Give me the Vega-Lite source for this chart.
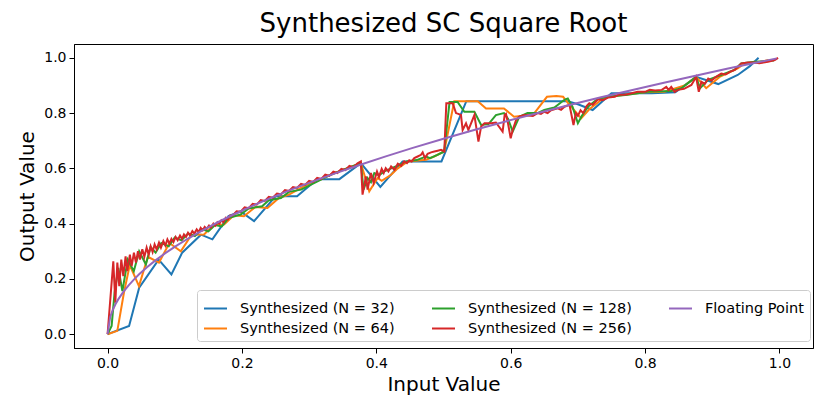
{
  "$schema": "https://vega.github.io/schema/vega-lite/v6.json",
  "width": 739,
  "height": 304,
  "autosize": {"type": "none"},
  "padding": {"left": 74, "top": 44, "right": 17, "bottom": 67},
  "background": "white",
  "title": {
    "text": "Synthesized SC Square Root",
    "font": "DejaVu Sans",
    "fontSize": 26,
    "fontWeight": "normal",
    "color": "#000000",
    "anchor": "middle",
    "offset": 7
  },
  "encoding": {
    "x": {
      "field": "x",
      "type": "quantitative",
      "scale": {"domain": [-0.05, 1.05], "nice": false, "zero": false},
      "axis": {"title": "Input Value", "values": [0, 0.2, 0.4, 0.6, 0.8, 1.0], "format": ".1f", "titlePadding": 4}
    },
    "y": {
      "field": "y",
      "type": "quantitative",
      "scale": {"domain": [-0.05, 1.05], "nice": false, "zero": false},
      "axis": {"title": "Output Value", "values": [0, 0.2, 0.4, 0.6, 0.8, 1.0], "format": ".1f", "titlePadding": 6}
    },
    "color": {
      "type": "nominal",
      "scale": {
        "domain": ["Synthesized (N = 32)", "Synthesized (N = 64)", "Synthesized (N = 128)", "Synthesized (N = 256)", "Floating Point"],
        "range": ["#1f77b4", "#ff7f0e", "#2ca02c", "#d62728", "#9467bd"]
      },
      "legend": {
        "orient": "none",
        "legendX": 123,
        "legendY": 246,
        "columns": 3,
        "title": null,
        "symbolType": "stroke",
        "symbolSize": 529,
        "symbolStrokeWidth": 2,
        "labelFont": "DejaVu Sans",
        "labelFontSize": 14.5,
        "labelColor": "#000000",
        "labelOffset": 12,
        "labelLimit": 300,
        "padding": 6,
        "rowPadding": 1,
        "columnPadding": 33,
        "strokeColor": "#cccccc",
        "fillColor": "rgba(255,255,255,0.8)",
        "cornerRadius": 3
      }
    }
  },
  "layer": [
    {
      "data": {"values": [
        {"x": 0, "y": 0}, {"x": 0.032, "y": 0.03}, {"x": 0.047, "y": 0.168}, {"x": 0.076, "y": 0.27},
        {"x": 0.095, "y": 0.216}, {"x": 0.111, "y": 0.295}, {"x": 0.139, "y": 0.36}, {"x": 0.156, "y": 0.343},
        {"x": 0.18, "y": 0.427}, {"x": 0.198, "y": 0.444}, {"x": 0.218, "y": 0.409}, {"x": 0.25, "y": 0.499},
        {"x": 0.282, "y": 0.499}, {"x": 0.312, "y": 0.561}, {"x": 0.345, "y": 0.561}, {"x": 0.377, "y": 0.619},
        {"x": 0.406, "y": 0.533}, {"x": 0.439, "y": 0.625}, {"x": 0.474, "y": 0.625}, {"x": 0.497, "y": 0.625},
        {"x": 0.534, "y": 0.843}, {"x": 0.685, "y": 0.843}, {"x": 0.7, "y": 0.832}, {"x": 0.722, "y": 0.811},
        {"x": 0.75, "y": 0.872}, {"x": 0.78, "y": 0.872}, {"x": 0.81, "y": 0.872}, {"x": 0.845, "y": 0.875},
        {"x": 0.876, "y": 0.931}, {"x": 0.909, "y": 0.905}, {"x": 0.938, "y": 0.938}, {"x": 0.956, "y": 0.97},
        {"x": 0.969, "y": 1.0}
      ]},
      "mark": {"type": "line", "strokeWidth": 2},
      "encoding": {"color": {"datum": "Synthesized (N = 32)"}}
    },
    {
      "data": {"values": [
        {"x": 0, "y": 0}, {"x": 0.0145, "y": 0.012}, {"x": 0.0243, "y": 0.15}, {"x": 0.033, "y": 0.25},
        {"x": 0.0467, "y": 0.174}, {"x": 0.06, "y": 0.28}, {"x": 0.0765, "y": 0.259}, {"x": 0.092, "y": 0.33},
        {"x": 0.109, "y": 0.3}, {"x": 0.125, "y": 0.36}, {"x": 0.1435, "y": 0.361}, {"x": 0.158, "y": 0.395},
        {"x": 0.1733, "y": 0.397}, {"x": 0.188, "y": 0.43}, {"x": 0.203, "y": 0.427}, {"x": 0.22, "y": 0.46},
        {"x": 0.238, "y": 0.457}, {"x": 0.255, "y": 0.493}, {"x": 0.27, "y": 0.505}, {"x": 0.288, "y": 0.529},
        {"x": 0.3, "y": 0.545}, {"x": 0.317, "y": 0.559}, {"x": 0.335, "y": 0.58}, {"x": 0.357, "y": 0.601},
        {"x": 0.377, "y": 0.619}, {"x": 0.3895, "y": 0.517}, {"x": 0.402, "y": 0.565}, {"x": 0.408, "y": 0.555},
        {"x": 0.422, "y": 0.577}, {"x": 0.432, "y": 0.6}, {"x": 0.447, "y": 0.625}, {"x": 0.474, "y": 0.631},
        {"x": 0.486, "y": 0.643}, {"x": 0.501, "y": 0.661}, {"x": 0.516, "y": 0.843}, {"x": 0.551, "y": 0.843},
        {"x": 0.5633, "y": 0.817}, {"x": 0.59, "y": 0.817}, {"x": 0.605, "y": 0.787}, {"x": 0.618, "y": 0.79},
        {"x": 0.633, "y": 0.793}, {"x": 0.654, "y": 0.859}, {"x": 0.668, "y": 0.862}, {"x": 0.678, "y": 0.859},
        {"x": 0.6855, "y": 0.836}, {"x": 0.705, "y": 0.781}, {"x": 0.717, "y": 0.814}, {"x": 0.735, "y": 0.848},
        {"x": 0.745, "y": 0.859}, {"x": 0.77, "y": 0.866}, {"x": 0.8, "y": 0.875}, {"x": 0.829, "y": 0.877},
        {"x": 0.859, "y": 0.9}, {"x": 0.876, "y": 0.931}, {"x": 0.891, "y": 0.89}, {"x": 0.911, "y": 0.931},
        {"x": 0.938, "y": 0.962}, {"x": 0.948, "y": 0.98}, {"x": 0.968, "y": 0.983}, {"x": 0.984, "y": 0.992}
      ]},
      "mark": {"type": "line", "strokeWidth": 2},
      "encoding": {"color": {"datum": "Synthesized (N = 64)"}}
    },
    {
      "data": {"values": [
        {"x": 0, "y": 0}, {"x": 0.006, "y": 0.03}, {"x": 0.0104, "y": 0.15}, {"x": 0.016, "y": 0.24},
        {"x": 0.022, "y": 0.156}, {"x": 0.03, "y": 0.27}, {"x": 0.039, "y": 0.228}, {"x": 0.047, "y": 0.3},
        {"x": 0.057, "y": 0.252}, {"x": 0.064, "y": 0.315}, {"x": 0.0715, "y": 0.295}, {"x": 0.08, "y": 0.33},
        {"x": 0.091, "y": 0.318}, {"x": 0.1, "y": 0.35}, {"x": 0.11, "y": 0.34}, {"x": 0.12, "y": 0.365},
        {"x": 0.13, "y": 0.355}, {"x": 0.14, "y": 0.38}, {"x": 0.15, "y": 0.372}, {"x": 0.16, "y": 0.395},
        {"x": 0.17, "y": 0.39}, {"x": 0.18, "y": 0.42}, {"x": 0.198, "y": 0.433}, {"x": 0.21, "y": 0.455},
        {"x": 0.23, "y": 0.463}, {"x": 0.24, "y": 0.485}, {"x": 0.258, "y": 0.493}, {"x": 0.27, "y": 0.515},
        {"x": 0.288, "y": 0.523}, {"x": 0.3125, "y": 0.553}, {"x": 0.332, "y": 0.577}, {"x": 0.357, "y": 0.601},
        {"x": 0.377, "y": 0.619}, {"x": 0.381, "y": 0.523}, {"x": 0.387, "y": 0.565}, {"x": 0.392, "y": 0.55},
        {"x": 0.397, "y": 0.583}, {"x": 0.404, "y": 0.575}, {"x": 0.412, "y": 0.589}, {"x": 0.429, "y": 0.607},
        {"x": 0.445, "y": 0.625}, {"x": 0.46, "y": 0.63}, {"x": 0.474, "y": 0.643}, {"x": 0.48, "y": 0.637},
        {"x": 0.491, "y": 0.649}, {"x": 0.501, "y": 0.661}, {"x": 0.509, "y": 0.84}, {"x": 0.521, "y": 0.84},
        {"x": 0.531, "y": 0.805}, {"x": 0.546, "y": 0.805}, {"x": 0.556, "y": 0.757}, {"x": 0.567, "y": 0.76},
        {"x": 0.578, "y": 0.793}, {"x": 0.59, "y": 0.8}, {"x": 0.596, "y": 0.78}, {"x": 0.603, "y": 0.733},
        {"x": 0.613, "y": 0.787}, {"x": 0.625, "y": 0.8}, {"x": 0.64, "y": 0.8}, {"x": 0.65, "y": 0.811},
        {"x": 0.665, "y": 0.82}, {"x": 0.68, "y": 0.848}, {"x": 0.685, "y": 0.853}, {"x": 0.692, "y": 0.823},
        {"x": 0.7, "y": 0.763}, {"x": 0.706, "y": 0.79}, {"x": 0.715, "y": 0.823}, {"x": 0.73, "y": 0.852},
        {"x": 0.745, "y": 0.859}, {"x": 0.774, "y": 0.866}, {"x": 0.804, "y": 0.877}, {"x": 0.839, "y": 0.88},
        {"x": 0.854, "y": 0.89}, {"x": 0.876, "y": 0.931}, {"x": 0.882, "y": 0.89}, {"x": 0.894, "y": 0.92},
        {"x": 0.9135, "y": 0.938}, {"x": 0.933, "y": 0.956}, {"x": 0.943, "y": 0.98}, {"x": 0.963, "y": 0.986},
        {"x": 0.992, "y": 0.99}
      ]},
      "mark": {"type": "line", "strokeWidth": 2},
      "encoding": {"color": {"datum": "Synthesized (N = 128)"}}
    },
    {
      "data": {"values": [
        {"x": 0, "y": 0}, {"x": 0.0085, "y": 0.264}, {"x": 0.0115, "y": 0.114}, {"x": 0.0145, "y": 0.259},
        {"x": 0.0174, "y": 0.174}, {"x": 0.0204, "y": 0.27}, {"x": 0.0234, "y": 0.21}, {"x": 0.0268, "y": 0.282},
        {"x": 0.0293, "y": 0.228}, {"x": 0.0332, "y": 0.288}, {"x": 0.0358, "y": 0.246}, {"x": 0.0392, "y": 0.295},
        {"x": 0.0422, "y": 0.259}, {"x": 0.0452, "y": 0.3}, {"x": 0.0481, "y": 0.27}, {"x": 0.0517, "y": 0.307},
        {"x": 0.0547, "y": 0.28}, {"x": 0.0581, "y": 0.313}, {"x": 0.0611, "y": 0.288}, {"x": 0.0641, "y": 0.318},
        {"x": 0.067, "y": 0.297}, {"x": 0.07, "y": 0.325}, {"x": 0.073, "y": 0.307}, {"x": 0.0765, "y": 0.331},
        {"x": 0.0794, "y": 0.313}, {"x": 0.083, "y": 0.337}, {"x": 0.086, "y": 0.321}, {"x": 0.089, "y": 0.343},
        {"x": 0.092, "y": 0.328}, {"x": 0.095, "y": 0.345}, {"x": 0.098, "y": 0.333}, {"x": 0.1013, "y": 0.352},
        {"x": 0.1043, "y": 0.34}, {"x": 0.1078, "y": 0.357}, {"x": 0.1108, "y": 0.345}, {"x": 0.1137, "y": 0.361},
        {"x": 0.1167, "y": 0.352}, {"x": 0.1197, "y": 0.367}, {"x": 0.1227, "y": 0.357}, {"x": 0.1262, "y": 0.373},
        {"x": 0.1292, "y": 0.364}, {"x": 0.1326, "y": 0.379}, {"x": 0.1356, "y": 0.369}, {"x": 0.1386, "y": 0.385},
        {"x": 0.1416, "y": 0.376}, {"x": 0.1446, "y": 0.388}, {"x": 0.1475, "y": 0.381}, {"x": 0.151, "y": 0.393},
        {"x": 0.154, "y": 0.386}, {"x": 0.1575, "y": 0.4}, {"x": 0.1605, "y": 0.393}, {"x": 0.1635, "y": 0.405},
        {"x": 0.1665, "y": 0.4}, {"x": 0.1694, "y": 0.412}, {"x": 0.1724, "y": 0.405}, {"x": 0.1759, "y": 0.421},
        {"x": 0.1788, "y": 0.415}, {"x": 0.1823, "y": 0.429}, {"x": 0.186, "y": 0.429}, {"x": 0.192, "y": 0.445},
        {"x": 0.198, "y": 0.443}, {"x": 0.204, "y": 0.459}, {"x": 0.21, "y": 0.456}, {"x": 0.216, "y": 0.472},
        {"x": 0.222, "y": 0.469}, {"x": 0.228, "y": 0.485}, {"x": 0.234, "y": 0.482}, {"x": 0.24, "y": 0.497},
        {"x": 0.246, "y": 0.494}, {"x": 0.252, "y": 0.509}, {"x": 0.258, "y": 0.506}, {"x": 0.264, "y": 0.521},
        {"x": 0.27, "y": 0.518}, {"x": 0.276, "y": 0.532}, {"x": 0.282, "y": 0.529}, {"x": 0.288, "y": 0.544},
        {"x": 0.294, "y": 0.54}, {"x": 0.3, "y": 0.555}, {"x": 0.306, "y": 0.551}, {"x": 0.312, "y": 0.566},
        {"x": 0.318, "y": 0.562}, {"x": 0.324, "y": 0.577}, {"x": 0.33, "y": 0.573}, {"x": 0.336, "y": 0.588},
        {"x": 0.342, "y": 0.583}, {"x": 0.348, "y": 0.598}, {"x": 0.354, "y": 0.594}, {"x": 0.36, "y": 0.609},
        {"x": 0.366, "y": 0.604}, {"x": 0.372, "y": 0.618}, {"x": 0.377, "y": 0.625}, {"x": 0.3795, "y": 0.505},
        {"x": 0.3845, "y": 0.571}, {"x": 0.387, "y": 0.523}, {"x": 0.392, "y": 0.583}, {"x": 0.396, "y": 0.547},
        {"x": 0.401, "y": 0.589}, {"x": 0.404, "y": 0.569}, {"x": 0.408, "y": 0.598}, {"x": 0.411, "y": 0.583},
        {"x": 0.414, "y": 0.601}, {"x": 0.418, "y": 0.589}, {"x": 0.422, "y": 0.607}, {"x": 0.427, "y": 0.595},
        {"x": 0.432, "y": 0.617}, {"x": 0.437, "y": 0.609}, {"x": 0.4415, "y": 0.625}, {"x": 0.4456, "y": 0.619},
        {"x": 0.449, "y": 0.629}, {"x": 0.4526, "y": 0.625}, {"x": 0.4565, "y": 0.637}, {"x": 0.4615, "y": 0.643},
        {"x": 0.4665, "y": 0.649}, {"x": 0.469, "y": 0.658}, {"x": 0.4724, "y": 0.637}, {"x": 0.4764, "y": 0.653},
        {"x": 0.4814, "y": 0.658}, {"x": 0.4863, "y": 0.661}, {"x": 0.4913, "y": 0.664}, {"x": 0.4963, "y": 0.667},
        {"x": 0.5012, "y": 0.661}, {"x": 0.5042, "y": 0.836}, {"x": 0.5137, "y": 0.836}, {"x": 0.5186, "y": 0.8},
        {"x": 0.522, "y": 0.797}, {"x": 0.526, "y": 0.793}, {"x": 0.5285, "y": 0.739}, {"x": 0.5335, "y": 0.763},
        {"x": 0.537, "y": 0.739}, {"x": 0.541, "y": 0.763}, {"x": 0.546, "y": 0.793}, {"x": 0.552, "y": 0.697},
        {"x": 0.556, "y": 0.751}, {"x": 0.561, "y": 0.763}, {"x": 0.571, "y": 0.763}, {"x": 0.578, "y": 0.766},
        {"x": 0.588, "y": 0.733}, {"x": 0.591, "y": 0.793}, {"x": 0.593, "y": 0.797}, {"x": 0.596, "y": 0.763},
        {"x": 0.6, "y": 0.709}, {"x": 0.603, "y": 0.739}, {"x": 0.608, "y": 0.775}, {"x": 0.613, "y": 0.787},
        {"x": 0.62, "y": 0.793}, {"x": 0.633, "y": 0.79}, {"x": 0.64, "y": 0.8}, {"x": 0.645, "y": 0.797},
        {"x": 0.65, "y": 0.805}, {"x": 0.655, "y": 0.8}, {"x": 0.66, "y": 0.81}, {"x": 0.67, "y": 0.817},
        {"x": 0.675, "y": 0.812}, {"x": 0.68, "y": 0.823}, {"x": 0.6875, "y": 0.83}, {"x": 0.6935, "y": 0.757},
        {"x": 0.697, "y": 0.8}, {"x": 0.7, "y": 0.79}, {"x": 0.704, "y": 0.81}, {"x": 0.708, "y": 0.8},
        {"x": 0.713, "y": 0.825}, {"x": 0.717, "y": 0.836}, {"x": 0.722, "y": 0.83}, {"x": 0.73, "y": 0.85},
        {"x": 0.737, "y": 0.847}, {"x": 0.745, "y": 0.856}, {"x": 0.755, "y": 0.859}, {"x": 0.76, "y": 0.866},
        {"x": 0.77, "y": 0.866}, {"x": 0.78, "y": 0.872}, {"x": 0.789, "y": 0.877}, {"x": 0.8, "y": 0.877},
        {"x": 0.807, "y": 0.884}, {"x": 0.815, "y": 0.882}, {"x": 0.825, "y": 0.884}, {"x": 0.8316, "y": 0.895},
        {"x": 0.835, "y": 0.884}, {"x": 0.839, "y": 0.895}, {"x": 0.844, "y": 0.877}, {"x": 0.849, "y": 0.884},
        {"x": 0.858, "y": 0.888}, {"x": 0.869, "y": 0.902}, {"x": 0.876, "y": 0.931}, {"x": 0.88, "y": 0.877},
        {"x": 0.884, "y": 0.913}, {"x": 0.889, "y": 0.906}, {"x": 0.894, "y": 0.925}, {"x": 0.899, "y": 0.918},
        {"x": 0.905, "y": 0.93}, {"x": 0.9135, "y": 0.943}, {"x": 0.92, "y": 0.94}, {"x": 0.927, "y": 0.95},
        {"x": 0.9335, "y": 0.956}, {"x": 0.9434, "y": 0.98}, {"x": 0.953, "y": 0.983}, {"x": 0.963, "y": 0.983},
        {"x": 0.97, "y": 0.98}, {"x": 0.983, "y": 0.986}, {"x": 0.993, "y": 0.992}, {"x": 0.998, "y": 1.0}
      ]},
      "mark": {"type": "line", "strokeWidth": 2},
      "encoding": {"color": {"datum": "Synthesized (N = 256)"}}
    },
    {
      "data": {"values": [
        {"x": 0, "y": 0}, {"x": 0.0039, "y": 0.0625}, {"x": 0.0078, "y": 0.0884}, {"x": 0.0117, "y": 0.1083},
        {"x": 0.0156, "y": 0.125}, {"x": 0.0234, "y": 0.153}, {"x": 0.0313, "y": 0.1768}, {"x": 0.0391, "y": 0.1976},
        {"x": 0.0469, "y": 0.2165}, {"x": 0.0586, "y": 0.242}, {"x": 0.0703, "y": 0.2652}, {"x": 0.0859, "y": 0.2931},
        {"x": 0.1016, "y": 0.3187}, {"x": 0.1211, "y": 0.348}, {"x": 0.1406, "y": 0.375}, {"x": 0.1641, "y": 0.405},
        {"x": 0.1875, "y": 0.433}, {"x": 0.2148, "y": 0.4635}, {"x": 0.2422, "y": 0.4921}, {"x": 0.2734, "y": 0.5229},
        {"x": 0.3047, "y": 0.552}, {"x": 0.3398, "y": 0.5829}, {"x": 0.375, "y": 0.6124}, {"x": 0.4141, "y": 0.6435},
        {"x": 0.4531, "y": 0.6731}, {"x": 0.5, "y": 0.7071}, {"x": 0.5469, "y": 0.7395}, {"x": 0.5938, "y": 0.7706},
        {"x": 0.6406, "y": 0.8004}, {"x": 0.6875, "y": 0.8292}, {"x": 0.7344, "y": 0.857}, {"x": 0.7813, "y": 0.8839},
        {"x": 0.8281, "y": 0.91}, {"x": 0.875, "y": 0.9354}, {"x": 0.9219, "y": 0.9601}, {"x": 0.9609, "y": 0.9803},
        {"x": 0.9961, "y": 0.998}
      ]},
      "mark": {"type": "line", "strokeWidth": 2},
      "encoding": {"color": {"datum": "Floating Point"}}
    }
  ],
  "config": {
    "view": {"stroke": "#000000", "strokeWidth": 1},
    "axis": {
      "grid": false,
      "domainColor": "#000000",
      "tickColor": "#000000",
      "tickSize": 5,
      "labelPadding": 3,
      "labelFont": "DejaVu Sans",
      "labelFontSize": 14,
      "labelColor": "#000000",
      "titleFont": "DejaVu Sans",
      "titleFontSize": 20,
      "titleFontWeight": "normal",
      "titleColor": "#000000"
    }
  }
}
